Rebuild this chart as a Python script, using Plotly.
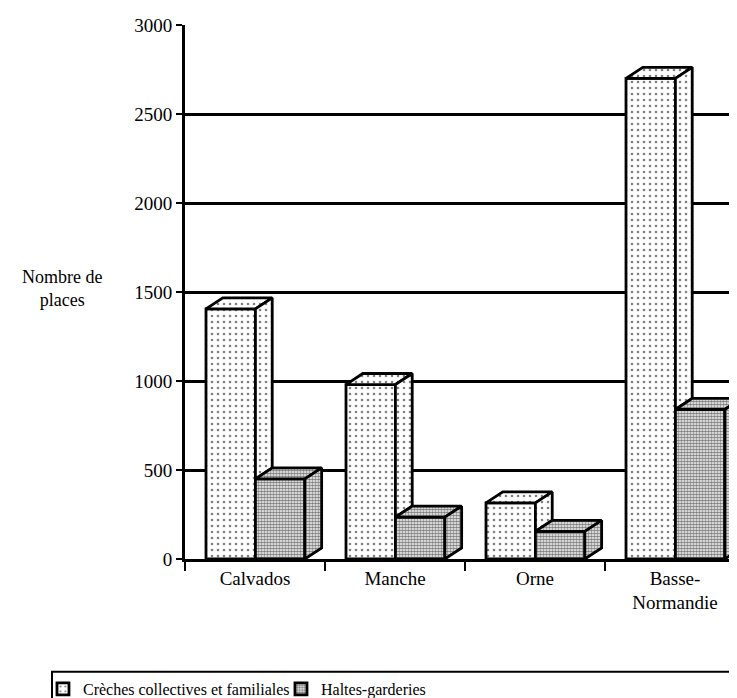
import plotly.graph_objects as go

# ---- data ----
categories = ["Calvados", "Manche", "Orne", "Basse-<br>Normandie"]
creches = [1405, 980, 315, 2700]
haltes = [450, 235, 155, 840]
y_ticks = [0, 500, 1000, 1500, 2000, 2500, 3000]
series_names = ["Crèches collectives et familiales", "Haltes-garderies"]

# ---- style / geometry ----
FONT = "Liberation Serif"
W = 0.353        # bar front width (x units)
O1 = -0.35       # offset of first bar from category centre
DX = 0.12        # depth shift in x (x units)
DY = 62          # depth shift in y (y units)
light = dict(shape=".", fgcolor="black", bgcolor="white", size=6, solidity=0.15)
dark = dict(shape=".", fgcolor="black", bgcolor="white", size=3, solidity=0.65)
patterns = [light, dark]
LW = 2.8

xs = list(range(len(categories)))
fig = go.Figure()

series = [creches, haltes]
for s, vals in enumerate(series):
    fig.add_trace(go.Bar(
        x=xs, y=vals, width=W, offset=O1 + s * W, name=series_names[s],
        marker=dict(color="white", line=dict(color="black", width=LW), pattern=patterns[s]),
        hoverinfo="skip",
    ))


def face(px, py, pat):
    fig.add_trace(go.Scatter(
        x=px + [px[0]], y=py + [py[0]], mode="lines", fill="toself",
        fillcolor="white", fillpattern=pat,
        line=dict(color="black", width=LW), showlegend=False, hoverinfo="skip",
    ))


for i, c in enumerate(xs):
    for s, vals in enumerate(series):
        v = vals[i]
        xl = c + O1 + s * W
        xr = xl + W
        # top face
        face([xl, xr, xr + DX, xl + DX], [v, v, v + DY, v + DY], patterns[s])
        # side face (lower part hidden by the following bar)
        nxt = series[s + 1][i] if s + 1 < len(series) else 0
        low = min(nxt, v)
        face([xr, xr + DX, xr + DX, xr], [low, low + DY, v + DY, v], patterns[s])

# the page body adds an 8px offset, margins compensate for it
fig.update_layout(
    width=737, height=698,
    margin=dict(l=177, r=0, t=17, b=146),
    paper_bgcolor="white", plot_bgcolor="white",
    barmode="overlay",
    font=dict(family=FONT, size=16, color="black"),
    showlegend=True,
    legend=dict(orientation="h", x=-0.2536, y=-0.212, xanchor="left", yanchor="top",
                font=dict(family=FONT, size=16, color="black"),
                bgcolor="rgba(0,0,0,0)", borderwidth=0, traceorder="normal",
                itemwidth=30, entrywidth=193),
    xaxis=dict(range=[-0.5, 3.5], tickvals=xs, ticktext=categories,
               ticks="", showline=True, linecolor="black", linewidth=LW,
               showgrid=False, zeroline=False,
               tickfont=dict(family=FONT, size=19, color="black"),
               minor=dict(tickmode="array", tickvals=[-0.5, 0.5, 1.5, 2.5],
                          ticks="outside", ticklen=9, tickwidth=2, tickcolor="black",
                          showgrid=False)),
    yaxis=dict(range=[0, 3000], tickvals=y_ticks, ticks="outside", ticklen=6,
               tickwidth=2, tickcolor="black", showline=True, linecolor="black",
               linewidth=LW, showgrid=True, gridcolor="black", gridwidth=2.5,
               zeroline=False, tickfont=dict(family=FONT, size=19, color="black")),
    annotations=[dict(text="Nombre de<br>places", xref="paper", yref="paper",
                      x=-0.2196, y=0.506, showarrow=False, xanchor="center", yanchor="middle",
                      font=dict(family=FONT, size=18, color="black"))],
    shapes=[dict(type="rect", xref="paper", yref="paper", x0=-0.2375, x1=1.2,
                 y0=-0.2112, y1=-0.4, line=dict(color="black", width=2),
                 fillcolor="rgba(0,0,0,0)")],
)

fig.write_html("out.html")
